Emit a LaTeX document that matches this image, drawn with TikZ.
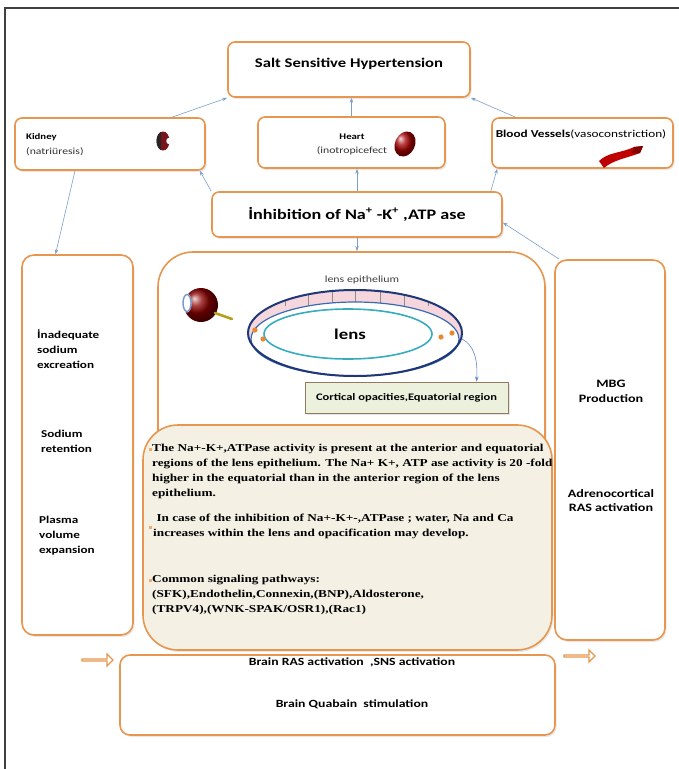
\documentclass[tikz,border=0pt]{standalone}
\usepackage{fontspec}
\setmainfont{Carlito}[FakeStretch=1.25]
\newfontfamily\bodyserif{Liberation Serif}[FakeStretch=1.25]
\usetikzlibrary{arrows.meta,shadows,shapes.arrows,calc}
\definecolor{boxorange}{RGB}{230,150,78}
\definecolor{linkblue}{RGB}{122,160,204}
\definecolor{beige}{RGB}{244,241,228}
\definecolor{cortfill}{RGB}{236,241,222}
\definecolor{cortedge}{RGB}{150,120,95}
\definecolor{navy}{RGB}{30,55,120}
\definecolor{midblue}{RGB}{58,105,178}
\definecolor{teal}{RGB}{55,172,188}
\definecolor{bandpink}{RGB}{245,214,220}
\definecolor{dotorange}{RGB}{235,135,45}
\definecolor{organred}{RGB}{150,25,35}
\begin{document}
\begin{tikzpicture}[x=1pt,y=-1pt,
  box/.style={draw=boxorange, line width=1.6pt, fill=white, rounded corners=7pt,
    inner sep=0pt, drop shadow={opacity=0.18, shadow xshift=1.5pt, shadow yshift=-2pt}},
  link/.style={draw=linkblue, line width=0.6pt, -{Stealth[length=5pt,width=3.5pt]}},
  boldlbl/.style={font=\bfseries\fontsize{8.6}{10}\selectfont, inner sep=0pt},
  plainlbl/.style={font=\fontsize{9.4}{11}\selectfont, inner sep=0pt, text=black!80},
  collbl/.style={font=\bfseries\fontsize{10.5}{15}\selectfont, inner sep=0pt, align=left},
  ctrlbl/.style={font=\bfseries\fontsize{11.3}{14.5}\selectfont, inner sep=0pt, align=center},
  notetext/.style={font=\bodyserif\bfseries\fontsize{10.6}{15}\selectfont, inner sep=0pt,
    align=left, anchor=north west},
  hollowarrow/.style={single arrow, draw=boxorange, line width=1.2pt, fill=white,
    minimum height=31pt, minimum width=12pt, single arrow head extend=3pt, inner sep=0pt},
  bulletsq/.style={fill=dotorange!70, minimum size=3pt, inner sep=0pt},
]
\useasboundingbox (0,0) rectangle (679,769);

% page frame
\draw[line width=1.3pt, black!75] (5,769) -- (5,8) -- (679,8);

% ---------- top row ----------
\node[box, minimum width=242pt, minimum height=55pt] (salt) at (349,69.5) {};
\node[font=\bfseries\fontsize{13.3}{15}\selectfont, inner sep=0pt] (saltlbl) at (349,64) {Salt Sensitive Hypertension};

\node[box, minimum width=190pt, minimum height=52pt] (kidney) at (110,144) {};
\node[boldlbl, anchor=base west] (kidneylbl) at (26,139) {Kidney};
\node[plainlbl, anchor=base west] (kidneysub) at (26,154) {(natriüresis)};

\node[box, minimum width=187pt, minimum height=51pt] (heart) at (351.5,142.5) {};
\node[boldlbl, anchor=base] (heartlbl) at (352,139) {Heart};
\node[plainlbl, anchor=base] (heartsub) at (352,153) {(inotropicefect};

\node[box, minimum width=181pt, minimum height=50pt] (vessels) at (582.5,143) {};
\node[font=\fontsize{10.6}{12}\selectfont, inner sep=0pt, anchor=base] (vessellbl) at (581,137)
  {\textbf{Blood Vessels}(vasoconstriction)};

\node[box, minimum width=290pt, minimum height=45pt] (inhib) at (357,214.5) {};
\node[font=\bfseries\fontsize{14.5}{17}\selectfont, inner sep=0pt] (inhiblbl) at (357,214)
  {İnhibition of Na\textsuperscript{+} -K\textsuperscript{+} ,ATP ase};

% organ pictograms
% kidney
\begin{scope}
  \clip (163,141) ellipse (6.5 and 9.5);
  \fill[organred!80!black] (155,130) rectangle (171,152);
  \fill[black!85] (155,130) rectangle (160.5,152);
\end{scope}
\fill[white] (168.5,141) ellipse (2.2 and 3);
% heart
\shade[ball color=red!65!black, rotate around={-25:(405,144)}] (405,144) ellipse (10 and 13);
% blood vessel segment
\fill[red!75!black] (599,161) .. controls (608,152) and (622,153) .. (634,147)
  -- (643,146) -- (640,153) .. controls (627,158) and (613,160) .. (604,168) -- cycle;
\fill[red!50!black] (634,147) -- (643,146) -- (640,153) -- (632,153) -- cycle;

% ---------- side columns ----------
\node[box, rounded corners=12pt, minimum width=111pt, minimum height=380pt] (leftcol) at (77.5,445) {};
\node[collbl, anchor=north west] (lc1) at (37,330) {İnadequate\\sodium\\excreation};
\node[collbl, anchor=north west] (lc2) at (41,430) {Sodium\\retention};
\node[collbl, anchor=north west] (lc3) at (39,516) {Plasma\\volume\\expansion};

\node[box, rounded corners=12pt, minimum width=110pt, minimum height=380pt] (rightcol) at (610,450) {};
\node[ctrlbl, anchor=north] (rc1) at (611,380) {MBG\\Production};
\node[ctrlbl, anchor=north] (rc2) at (611,489) {Adrenocortical\\RAS activation};

% ---------- lens panel ----------
\node[box, rounded corners=35pt, minimum width=387pt, minimum height=230pt] (lensbox) at (351.5,367) {};

% eye
\shade[ball color=red!55!black] (201,305) circle (17);
\fill[white] (187,303) ellipse (4.5 and 9.5);
\draw[midblue!70, line width=1.4pt] (187,303) ellipse (4 and 8.5);
\draw[line width=2.6pt, brown!55!yellow!85!black, line cap=round] (215,313) -- (232,319);

% lens with epithelium band
\fill[bandpink] (355,333) ellipse (107 and 43);
\begin{scope}
  \clip (355,333) ellipse (107 and 43);
  \foreach \tx in {285,308,332,355,380,404,428}
    \draw[black!45, line width=0.4pt] (\tx,286) -- (\tx,306);
\end{scope}
\fill[white] (355,339) ellipse (104 and 37);
\draw[midblue, line width=1.2pt] (355,339) ellipse (104 and 37);
\draw[navy, line width=2pt] (355,333) ellipse (107 and 43);
\draw[teal, line width=1.6pt] (348,334) ellipse (84 and 25);
\node[font=\bfseries\fontsize{15}{17}\selectfont, inner sep=0pt] (lenslbl) at (350,334) {lens};
\node[font=\fontsize{9.5}{11}\selectfont, inner sep=0pt, text=black!75] (epilbl) at (362,280) {lens epithelium};
\fill[dotorange] (255,330) circle (2.6);
\fill[dotorange] (263,339) circle (2.6);
\fill[dotorange] (441,337) circle (2.6);
\fill[dotorange] (452,333) circle (2.6);

\node[draw=cortedge, line width=0.9pt, fill=cortfill, minimum width=203pt, minimum height=31pt,
  inner sep=0pt, drop shadow={opacity=0.2, shadow xshift=1.5pt, shadow yshift=-1.5pt}] (cortical) at (406.5,397.5) {};
\node[font=\bfseries\fontsize{10}{12}\selectfont, inner sep=0pt] (cortlbl) at (406.5,398)
  {Cortical opacities,Equatorial region};
\coordinate (equator) at (462,339);
\draw[link, draw=midblue!80] (equator) .. controls (474,345) and (478,360) .. ([xshift=70pt]cortical.north);

% ---------- Na/K ATPase notes ----------
\node[box, fill=beige, rounded corners=35pt, minimum width=409pt, minimum height=225pt] (notes) at (347.5,537.5) {};
\node[notetext] (notes1) at (152,444)
  {The Na+-K+,ATPase activity is present at the anterior and equatorial\\
   regions of the lens epithelium. The Na+ K+, ATP ase activity is 20 -fold\\
   higher in the equatorial than in the anterior region of the lens\\
   epithelium.};
\node[notetext] (notes2) at (153,514)
  {\ In case of the inhibition of Na+-K+-,ATPase ; water, Na and Ca\\
   increases within the lens and opacification may develop.};
\node[notetext] (notes3) at (152,575)
  {Common signaling pathways:\\
   (SFK),Endothelin,Connexin,(BNP),Aldosterone,\\
   (TRPV4),(WNK-SPAK/OSR1),(Rac1)};
\node[bulletsq] (b1) at (150,449) {};
\node[bulletsq] (b2) at (150,527) {};
\node[bulletsq] (b3) at (150,580) {};

% ---------- brain row ----------
\node[box, rounded corners=10pt, minimum width=435pt, minimum height=80pt] (brain) at (337.5,695) {};
\node[font=\bfseries\fontsize{11}{13}\selectfont, inner sep=0pt] (brainlbl1) at (352,662) {Brain RAS activation\ \ ,SNS activation};
\node[font=\bfseries\fontsize{11}{13}\selectfont, inner sep=0pt] (brainlbl2) at (352,704) {Brain Quabain\ \ stimulation};
\node[hollowarrow] (arrowl) at (97,660) {};
\node[hollowarrow] (arrowr) at (579,656) {};

% ---------- connectors ----------
\draw[link] ([xshift=62pt]kidney.north) -- (salt.south west);
\draw[link] (heart.north) -- (heart.north |- salt.south);
\draw[link] ([xshift=-67pt]vessels.north) -- (salt.south east);
\draw[link] (inhib.north west) -- ([xshift=-6pt]kidney.south east);
\draw[link] (inhib.north) -- (inhib.north |- heart.south);
\draw[link] ([xshift=-12pt]inhib.north east) -- ([xshift=6pt]vessels.south west);
\draw[link] ([xshift=-35pt]kidney.south) -- ([xshift=-22pt]leftcol.north);
\draw[link] (inhib.south) -- (inhib.south |- lensbox.north);
\draw[link] ([xshift=5pt]rightcol.north west) -- ([yshift=-8pt]inhib.east);
\end{tikzpicture}
\end{document}
